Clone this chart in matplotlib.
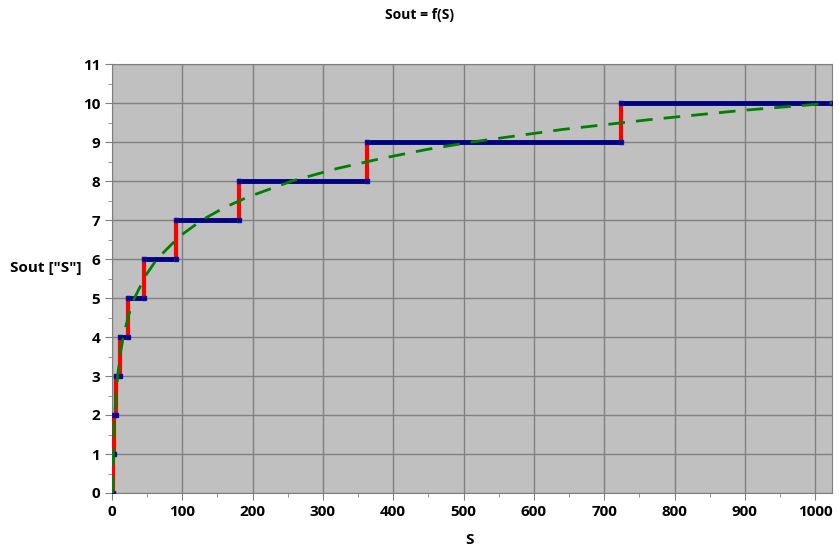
import matplotlib.pyplot as plt
from matplotlib.ticker import MultipleLocator

# step edges (S where the output level changes) and output levels
step_edges = [0, 1.41, 2.83, 5.66, 11.3, 22.6, 45.3, 90.5, 181, 362, 724, 1024]
step_levels = [0, 1, 2, 3, 4, 5, 6, 7, 8, 9, 10]

# ideal curve
curve_s = [1, 1.5, 2, 3, 4, 6, 8, 12, 16, 24, 32, 48, 64, 96, 128, 160, 192,
           256, 320, 384, 448, 512, 640, 768, 896, 1024]
curve_out = [0, 0.58, 1, 1.58, 2, 2.58, 3, 3.58, 4, 4.58, 5, 5.58, 6, 6.58, 7,
             7.32, 7.58, 8, 8.32, 8.58, 8.81, 9, 9.32, 9.58, 9.81, 10]

plt.rcParams['font.family'] = ['Open Sans', 'DejaVu Sans']

fig = plt.figure(figsize=(8.39, 5.49), dpi=100)
ax = fig.add_axes([112 / 839, 1 - 493 / 549, 720 / 839, 429 / 549])
ax.set_facecolor('#C0C0C0')

# vertical risers in red
for i in range(1, len(step_levels)):
    ax.plot([step_edges[i], step_edges[i]], [step_levels[i - 1], step_levels[i]],
            color='red', lw=3, zorder=3)

# horizontal treads in navy
for i in range(len(step_levels)):
    ax.plot([step_edges[i], step_edges[i + 1]], [step_levels[i], step_levels[i]],
            color='#000080', lw=3.5, marker='s', ms=3.5, mec='#1010a0',
            mfc='#000080', solid_capstyle='butt', zorder=4)

# ideal curve
ax.plot(curve_s, curve_out, color='#008000', lw=2, ls=(0, (6, 4)), zorder=5)

ax.set_xlim(0, 1024)
ax.set_ylim(0, 11)
ax.xaxis.set_major_locator(MultipleLocator(100))
ax.xaxis.set_minor_locator(MultipleLocator(50))
ax.yaxis.set_major_locator(MultipleLocator(1))
ax.yaxis.set_minor_locator(MultipleLocator(0.5))
ax.grid(True, which='major', color='#808080', lw=1)
ax.set_axisbelow(True)
ax.tick_params(which='both', direction='out', color='#808080')
ax.tick_params(which='major', length=5, labelsize=11)
ax.tick_params(which='minor', length=3)
for lbl in ax.get_xticklabels() + ax.get_yticklabels():
    lbl.set_fontweight('bold')
for sp in ax.spines.values():
    sp.set_color('#808080')

fig.text(0.5, 1 - 15 / 549, 'Sout = f(S)', ha='center', va='center',
         fontsize=10, fontweight='bold')
fig.text(470 / 839, 1 - 540 / 549, 'S', ha='center', va='center',
         fontsize=11, fontweight='bold')
fig.text(46 / 839, 1 - 268 / 549, 'Sout ["S"]', ha='center', va='center',
         fontsize=11, fontweight='bold')

fig.savefig('out.png', dpi=100)
